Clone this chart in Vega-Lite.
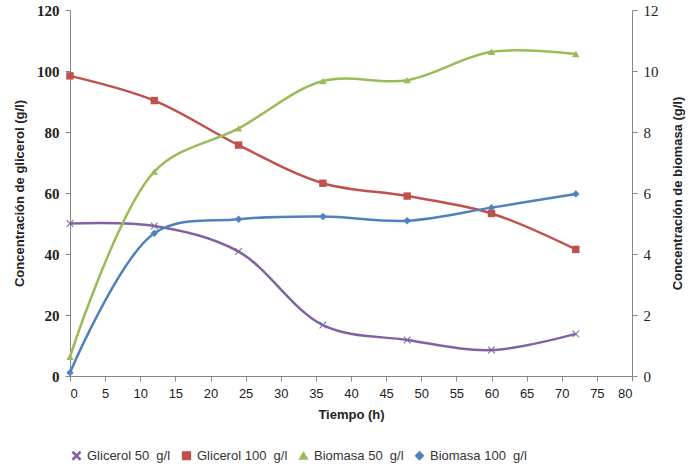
{
  "$schema": "https://vega.github.io/schema/vega-lite/v6.json",
  "width": 562,
  "height": 366,
  "autosize": "none",
  "padding": {"left": 70, "right": 63, "top": 10, "bottom": 93},
  "background": "white",
  "config": {
    "view": {"stroke": null},
    "axis": {
      "grid": false,
      "domainColor": "#868686",
      "tickColor": "#868686",
      "labelColor": "#222222",
      "titleColor": "#222222",
      "titleFont": "Liberation Sans",
      "titleFontWeight": "bold",
      "titleFontSize": 13
    },
    "legend": {
      "labelFont": "Liberation Sans",
      "labelFontSize": 13,
      "labelColor": "#333333"
    }
  },
  "data": {
    "values": [
      {"t": 0, "serie": "Glicerol 50\u00a0 g/l", "eje": "glicerol", "valor": 50.0},
      {"t": 12, "serie": "Glicerol 50\u00a0 g/l", "eje": "glicerol", "valor": 49.2},
      {"t": 24, "serie": "Glicerol 50\u00a0 g/l", "eje": "glicerol", "valor": 40.8},
      {"t": 36, "serie": "Glicerol 50\u00a0 g/l", "eje": "glicerol", "valor": 16.7},
      {"t": 48, "serie": "Glicerol 50\u00a0 g/l", "eje": "glicerol", "valor": 11.8},
      {"t": 60, "serie": "Glicerol 50\u00a0 g/l", "eje": "glicerol", "valor": 8.5},
      {"t": 72, "serie": "Glicerol 50\u00a0 g/l", "eje": "glicerol", "valor": 13.8},
      {"t": 0, "serie": "Glicerol 100\u00a0 g/l", "eje": "glicerol", "valor": 98.4},
      {"t": 12, "serie": "Glicerol 100\u00a0 g/l", "eje": "glicerol", "valor": 90.3},
      {"t": 24, "serie": "Glicerol 100\u00a0 g/l", "eje": "glicerol", "valor": 75.7},
      {"t": 36, "serie": "Glicerol 100\u00a0 g/l", "eje": "glicerol", "valor": 63.2},
      {"t": 48, "serie": "Glicerol 100\u00a0 g/l", "eje": "glicerol", "valor": 59.0},
      {"t": 60, "serie": "Glicerol 100\u00a0 g/l", "eje": "glicerol", "valor": 53.3},
      {"t": 72, "serie": "Glicerol 100\u00a0 g/l", "eje": "glicerol", "valor": 41.5},
      {"t": 0, "serie": "Biomasa 50\u00a0 g/l", "eje": "biomasa", "valor": 0.63},
      {"t": 12, "serie": "Biomasa 50\u00a0 g/l", "eje": "biomasa", "valor": 6.7},
      {"t": 24, "serie": "Biomasa 50\u00a0 g/l", "eje": "biomasa", "valor": 8.12},
      {"t": 36, "serie": "Biomasa 50\u00a0 g/l", "eje": "biomasa", "valor": 9.67},
      {"t": 48, "serie": "Biomasa 50\u00a0 g/l", "eje": "biomasa", "valor": 9.7},
      {"t": 60, "serie": "Biomasa 50\u00a0 g/l", "eje": "biomasa", "valor": 10.63},
      {"t": 72, "serie": "Biomasa 50\u00a0 g/l", "eje": "biomasa", "valor": 10.56},
      {"t": 0, "serie": "Biomasa 100\u00a0 g/l", "eje": "biomasa", "valor": 0.11},
      {"t": 12, "serie": "Biomasa 100\u00a0 g/l", "eje": "biomasa", "valor": 4.68},
      {"t": 24, "serie": "Biomasa 100\u00a0 g/l", "eje": "biomasa", "valor": 5.14},
      {"t": 36, "serie": "Biomasa 100\u00a0 g/l", "eje": "biomasa", "valor": 5.23},
      {"t": 48, "serie": "Biomasa 100\u00a0 g/l", "eje": "biomasa", "valor": 5.09},
      {"t": 60, "serie": "Biomasa 100\u00a0 g/l", "eje": "biomasa", "valor": 5.52},
      {"t": 72, "serie": "Biomasa 100\u00a0 g/l", "eje": "biomasa", "valor": 5.97}
    ]
  },
  "encoding": {
    "x": {
      "field": "t",
      "type": "quantitative",
      "scale": {"domain": [0, 80], "nice": false},
      "axis": {
        "title": "Tiempo (h)",
        "values": [0, 5, 10, 15, 20, 25, 30, 35, 40, 45, 50, 55, 60, 65, 70, 75, 80],
        "labelFont": "Liberation Sans",
        "labelFontSize": 13,
        "labelPadding": 6,
        "tickSize": 5,
        "titlePadding": 8
      }
    },
    "color": {
      "field": "serie",
      "type": "nominal",
      "sort": ["Glicerol 50\u00a0 g/l", "Glicerol 100\u00a0 g/l", "Biomasa 50\u00a0 g/l", "Biomasa 100\u00a0 g/l"],
      "scale": {
        "domain": ["Glicerol 50\u00a0 g/l", "Glicerol 100\u00a0 g/l", "Biomasa 50\u00a0 g/l", "Biomasa 100\u00a0 g/l"],
        "range": ["#8064A2", "#C0504D", "#9BBB59", "#4F81BD"]
      },
      "legend": {
        "title": null,
        "orient": "bottom",
        "direction": "horizontal",
        "offset": 28,
        "columnPadding": 8,
        "symbolSize": 60
      }
    },
    "shape": {
      "field": "serie",
      "type": "nominal",
      "sort": ["Glicerol 50\u00a0 g/l", "Glicerol 100\u00a0 g/l", "Biomasa 50\u00a0 g/l", "Biomasa 100\u00a0 g/l"],
      "scale": {
        "domain": ["Glicerol 50\u00a0 g/l", "Glicerol 100\u00a0 g/l", "Biomasa 50\u00a0 g/l", "Biomasa 100\u00a0 g/l"],
        "range": [
          "M-1,-0.8L-0.8,-1L0,-0.2L0.8,-1L1,-0.8L0.2,0L1,0.8L0.8,1L0,0.2L-0.8,1L-1,0.8L-0.2,0Z",
          "square",
          "triangle-up",
          "diamond"
        ]
      },
      "legend": {
        "title": null,
        "orient": "bottom",
        "direction": "horizontal"
      }
    }
  },
  "layer": [
    {
      "transform": [{"filter": "datum.eje == 'glicerol'"}],
      "mark": {
        "type": "line",
        "interpolate": "catmull-rom",
        "strokeWidth": 2.5,
        "point": {"filled": true, "size": 55, "opacity": 1}
      },
      "encoding": {
        "y": {
          "field": "valor",
          "type": "quantitative",
          "scale": {"domain": [0, 120], "nice": false},
          "axis": {
            "orient": "left",
            "title": "Concentración de glicerol (g/l)",
            "values": [0, 20, 40, 60, 80, 100, 120],
            "labelFont": "Liberation Serif",
            "labelFontWeight": "bold",
            "labelFontSize": 15,
            "labelPadding": 6,
            "tickSize": 5,
            "titlePadding": 10
          }
        }
      }
    },
    {
      "transform": [{"filter": "datum.eje == 'biomasa'"}],
      "mark": {
        "type": "line",
        "interpolate": "catmull-rom",
        "strokeWidth": 2.5,
        "point": {"filled": true, "size": 55, "opacity": 1}
      },
      "encoding": {
        "y": {
          "field": "valor",
          "type": "quantitative",
          "scale": {"domain": [0, 12], "nice": false},
          "axis": {
            "orient": "right",
            "title": "Concentración de biomasa (g/l)",
            "titleAngle": -90,
            "titleBaseline": "bottom",
            "values": [0, 2, 4, 6, 8, 10, 12],
            "labelFont": "Liberation Serif",
            "labelFontSize": 15,
            "labelPadding": 6,
            "tickSize": 5,
            "titlePadding": 26
          }
        }
      }
    }
  ],
  "resolve": {"scale": {"y": "independent"}}
}
